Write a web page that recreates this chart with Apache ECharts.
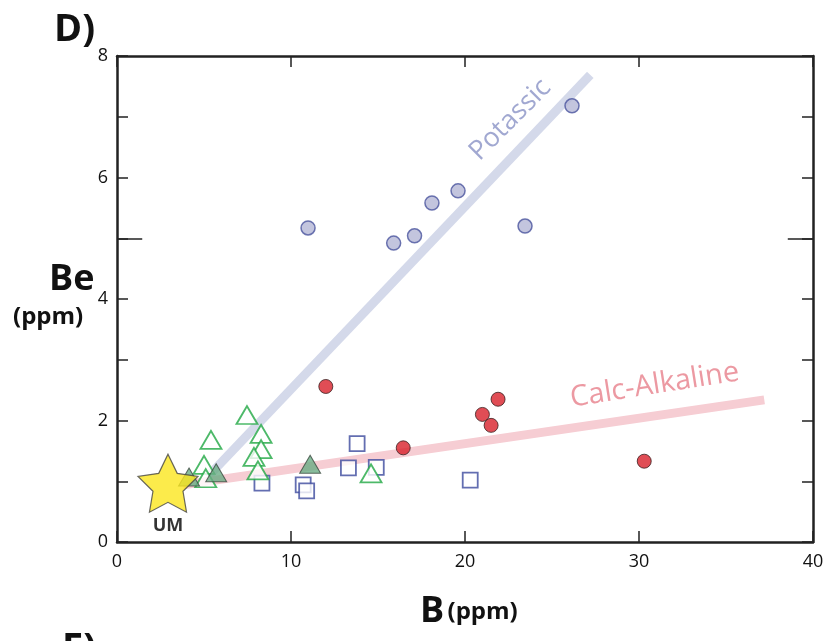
<!DOCTYPE html>
<html>
<head>
<meta charset="utf-8">
<script src="https://cdn.jsdelivr.net/npm/echarts@6/dist/echarts.min.js"></script>
<style>html,body{margin:0;padding:0;background:#fff;}#c{width:827px;height:641px;}</style>
</head>
<body>
<div id="c"></div>
<script>
// ---- data (B ppm, Be ppm) ----
const potassic = [[10.98,5.17],[15.9,4.92],[17.1,5.04],[18.1,5.58],[19.6,5.78],[23.45,5.2],[26.15,7.18]];
const calcAlkaline = [[12.0,2.56],[16.45,1.55],[21.0,2.1],[21.5,1.92],[21.9,2.35],[30.3,1.33]];
const openSquares = [[8.33,0.97],[10.7,0.94],[10.9,0.84],[13.3,1.22],[13.8,1.62],[14.9,1.23],[20.3,1.02]];
const openTriangles = [[7.47,2.09],[5.4,1.68],[8.28,1.78],[8.28,1.53],[7.87,1.40],[8.1,1.18],[5.0,1.27],[5.1,1.05],[14.6,1.13]];
const filledTriangles = [[4.14,1.07],[5.7,1.14],[11.1,1.28]];
const um = [[2.93,1.0]];
const potassicTrend = [[5.2,1.07],[27.2,7.69]];
const calcTrend = [[3.8,0.94],[37.2,2.34]];
const potassicLabelAt = [[22.6,6.95]];
const calcLabelAt = [[30.9,2.58]];
const xTicks = [0,10,20,30,40];
const yTicks = [0,2,4,6,8];
const longTickAt = 5;

const FONT = 'Open Sans';
const chart = echarts.init(document.getElementById('c'));
function starPath(){
  const R=50, r=25, pts=[];
  for(let i=0;i<10;i++){
    const a=-Math.PI/2+i*Math.PI/5, rr=i%2?r:R;
    pts.push((50+rr*Math.cos(a)).toFixed(2)+','+(50+rr*Math.sin(a)).toFixed(2));
  }
  return 'path://M'+pts.join(' L')+' Z';
}
const star = starPath();

const axisLineStyle = {color:'#222', width:2.5};
const tickStyle = {color:'#222', width:1.5};
chart.setOption({
  backgroundColor:'#fff',
  animation:false,
  textStyle:{fontFamily:FONT},
  grid:{left:117, right:14, top:56, bottom:99},
  xAxis:[
    {type:'value', min:0, max:40, interval:10, position:'bottom',
     axisLine:{show:true, lineStyle:axisLineStyle, onZero:false},
     axisTick:{show:true, inside:true, length:11, lineStyle:tickStyle},
     axisLabel:{fontSize:18, color:'#111', margin:11, fontFamily:FONT,
       formatter:v=>xTicks.indexOf(v)>=0?String(v):''},
     splitLine:{show:false}},
    {type:'value', min:0, max:40, interval:10, position:'top',
     axisLine:{show:true, lineStyle:axisLineStyle, onZero:false},
     axisTick:{show:true, inside:true, length:11, lineStyle:tickStyle},
     axisLabel:{show:false}, splitLine:{show:false}}
  ],
  yAxis:[
    {type:'value', min:0, max:8, interval:1, position:'left',
     axisLine:{show:true, lineStyle:axisLineStyle, onZero:false},
     axisTick:{show:true, inside:true, length:11, lineStyle:tickStyle},
     axisLabel:{fontSize:18, color:'#111', margin:9, fontFamily:FONT,
       formatter:v=>yTicks.indexOf(v)>=0?String(v):''},
     splitLine:{show:false}},
    {type:'value', min:0, max:8, interval:1, position:'right',
     axisLine:{show:true, lineStyle:axisLineStyle, onZero:false},
     axisTick:{show:true, inside:true, length:11, lineStyle:tickStyle},
     axisLabel:{show:false}, splitLine:{show:false}}
  ],
  series:[
    {type:'line', data:potassicTrend, symbol:'none', z:1,
     lineStyle:{color:'#d4d9ea', width:9, cap:'butt'},
     markLine:{silent:true, symbol:'none', animation:false,
       lineStyle:{color:'#222', width:1.5, type:'solid'}, label:{show:false},
       data:[[{coord:[0,longTickAt]},{coord:[1.45,longTickAt]}],
             [{coord:[38.55,longTickAt]},{coord:[40,longTickAt]}]]}},
    {type:'line', data:calcTrend, symbol:'none', z:1,
     lineStyle:{color:'#f6cdd3', width:9, cap:'butt'}},
    {type:'scatter', data:potassicLabelAt, symbol:'circle', symbolSize:1, z:2,
     itemStyle:{color:'rgba(0,0,0,0)'},
     label:{show:true, position:'inside', formatter:'Potassic', rotate:45,
       fontSize:27, color:'#8a92c6', fontFamily:FONT}},
    {type:'scatter', data:calcLabelAt, symbol:'circle', symbolSize:1, z:2,
     itemStyle:{color:'rgba(0,0,0,0)'},
     label:{show:true, position:'inside', formatter:'Calc-Alkaline', rotate:9,
       fontSize:29, color:'#e7808b', fontFamily:FONT}},
    {type:'scatter', data:potassic, symbol:'circle', symbolSize:14, z:5,
     itemStyle:{color:'#b4b6d6', borderColor:'#4a549e', borderWidth:1.5}},
    {type:'scatter', data:calcAlkaline, symbol:'circle', symbolSize:14, z:5,
     itemStyle:{color:'#d8202a', borderColor:'#3a2020', borderWidth:1}},
    {type:'scatter', data:openSquares, symbol:'rect', symbolSize:15, z:5,
     itemStyle:{color:'#fff', borderColor:'#3c4a9e', borderWidth:1.8}},
    {type:'scatter', data:openTriangles, symbol:'triangle', symbolSize:[21,18], z:5,
     itemStyle:{color:'#fff', borderColor:'#20a844', borderWidth:1.8}},
    {type:'scatter', data:filledTriangles, symbol:'triangle', symbolSize:[21,18], z:6,
     itemStyle:{color:'#6aad84', borderColor:'#3c4a40', borderWidth:1}},
    {type:'scatter', data:um, symbol:star, symbolSize:[60,58], symbolOffset:[0,2], z:7,
     itemStyle:{color:'#fbe61e', borderColor:'#444', borderWidth:1.2},
     label:{show:true, position:'bottom', distance:4, formatter:'UM',
       fontSize:18, fontWeight:'bold', color:'#000', fontFamily:FONT}}
  ],
  graphic:[
    {type:'text', left:54, top:11, style:{text:'D)', font:'bold 38px "Open Sans"', fill:'#111'}},
    {type:'text', left:49, top:262, style:{text:'Be', font:'bold 36px "Open Sans"', fill:'#111'}},
    {type:'text', left:13, top:305, style:{text:'(ppm)', font:'bold 24px "Open Sans"', fill:'#111'}},
    {type:'text', left:420, top:594, style:{rich:{a:{font:'bold 36px "Open Sans"', fill:'#111'}, b:{font:'bold 24px "Open Sans"', fill:'#111'}}, text:'{a|B} {b|(ppm)}'}},
    {type:'text', left:62, top:630, style:{text:'E)', font:'bold 38px "Open Sans"', fill:'#111'}}
  ]
});
</script>
</body>
</html>
